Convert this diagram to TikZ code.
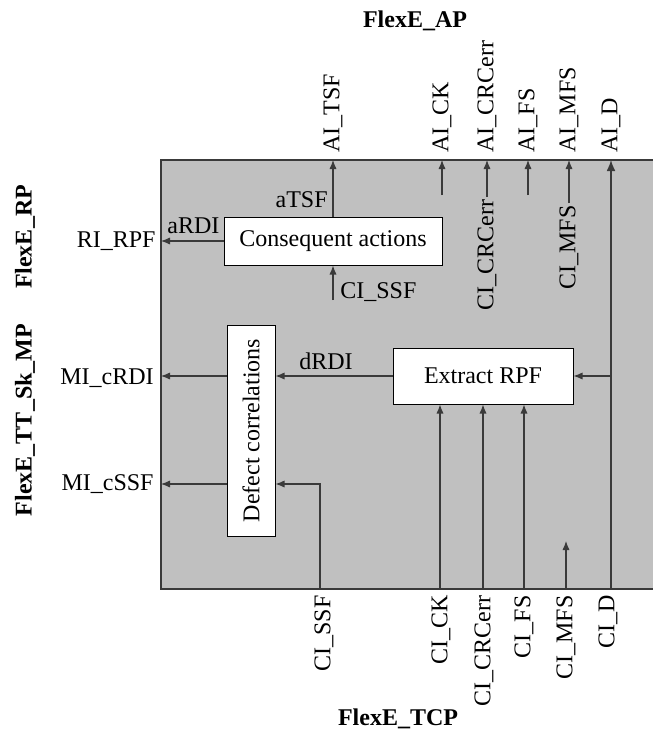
\documentclass[tikz,border=0pt]{standalone}
\usepackage{fontspec}
\setmainfont{Liberation Serif}
\usetikzlibrary{arrows.meta}
\definecolor{panel}{HTML}{C0C0C0}
\definecolor{wire}{HTML}{3A3A3A}
\begin{document}
\begin{tikzpicture}[x=0.5pt,y=-0.5pt,
  font=\fontsize{12}{14}\selectfont,
  every node/.style={inner sep=0pt},
  blk/.style={draw=black, fill=white, line width=0.5pt, inner sep=0pt},
  arr/.style={draw=wire, line width=0.55pt, -{Latex[length=4.5pt,width=3.6pt]}},
  bigarr/.style={draw=wire, line width=0.7pt, -{Latex[length=5.5pt,width=4.4pt]}},
  wireline/.style={draw=wire, line width=0.55pt},
  vlab/.style={rotate=90, inner sep=1pt},
  side/.style={font=\fontsize{12}{14}\selectfont\bfseries}]
\useasboundingbox (0,0) rectangle (653,729);
\fill[panel] (161,160) rectangle (660,589);
\draw[wire, line width=0.6pt] (660,160) -- (161,160) -- (161,589) -- (660,589);

% boxes
\node[blk, minimum width=109pt, minimum height=24pt] (ca) at (333,241) {Consequent actions};
\node[blk, rotate=90, minimum width=105.5pt, minimum height=24pt] (dc) at (251,430.5) {Defect correlations};
\node[blk, minimum width=90pt, minimum height=28pt] (ex) at (483,376) {Extract RPF};

% port coordinates
\coordinate (tTSF) at (333,160);
\coordinate (tCK) at (442,160);
\coordinate (tCRC) at (487,160);
\coordinate (tFS) at (528,160);
\coordinate (tMFS) at (569,160);
\coordinate (tD) at (611,160);
\coordinate (sCK) at (442,195);
\coordinate (sFS) at (528,195);
\coordinate (lRPF) at (161,241);
\coordinate (lcRDI) at (161,376);
\coordinate (lcSSF) at (161,484);
\coordinate (iSSF) at (333,300);
\coordinate (bSSF) at (320,589);
\coordinate (bCK) at (440,589);
\coordinate (bCRC) at (483,589);
\coordinate (bFS) at (524,589);
\coordinate (bMFS) at (566,589);
\coordinate (eMFS) at (566,541);
\coordinate (bD) at (611,589);
\coordinate (jD) at (611,376);

% inner labels
\node[vlab, anchor=east] (crcin) at (487,197) {CI\_CRCerr};
\node[vlab, anchor=east] (mfsin) at (569,203) {CI\_MFS};
\node[anchor=base east] at (328,207) {aTSF};
\node[anchor=base west] at (167,233) {aRDI};
\node[anchor=base west] at (340,298) {CI\_SSF};
\node[anchor=base west] at (299,369) {dRDI};

% connectors
\draw[arr] (ca.north) -- (tTSF);
\draw[arr] (ca.west) -- (lRPF);
\draw[arr] (iSSF) -- (ca.south);
\draw[arr] (sCK) -- (tCK);
\draw[arr] (crcin.east) -- (tCRC);
\draw[arr] (sFS) -- (tFS);
\draw[arr] (mfsin.east) -- (tMFS);
\draw[bigarr] (bD) -- (tD);
\draw[arr] (jD) -- (ex.east);
\draw[arr] (bCK) -- (bCK |- ex.south);
\draw[arr] (bCRC) -- (bCRC |- ex.south);
\draw[arr] (bFS) -- (bFS |- ex.south);
\draw[arr] (bMFS) -- (eMFS);
\draw[arr] (ex.west) -- (ex.west -| dc.south);
\draw[arr] (lcRDI -| dc.north) -- (lcRDI);
\draw[arr] (lcSSF -| dc.north) -- (lcSSF);
\draw[arr] (bSSF) |- (lcSSF -| dc.south);

% outer labels
\node[vlab, anchor=west] at (333,155) {AI\_TSF};
\node[vlab, anchor=west] at (442,155) {AI\_CK};
\node[vlab, anchor=west] at (487,155) {AI\_CRCerr};
\node[vlab, anchor=west] at (528,155) {AI\_FS};
\node[vlab, anchor=west] at (569,155) {AI\_MFS};
\node[vlab, anchor=west] at (611,155) {AI\_D};

\node[vlab, anchor=east] at (324,593) {CI\_SSF};
\node[vlab, anchor=east] at (441,593) {CI\_CK};
\node[vlab, anchor=east] at (484,593) {CI\_CRCerr};
\node[vlab, anchor=east] at (524,593) {CI\_FS};
\node[vlab, anchor=east] at (566,593) {CI\_MFS};
\node[vlab, anchor=east] at (608,593) {CI\_D};

\node[anchor=east] at (156,241) {RI\_RPF};
\node[anchor=east] at (154,378) {MI\_cRDI};
\node[anchor=east] at (154,484) {MI\_cSSF};

\node[side, anchor=base] at (415,27) {FlexE\_AP};
\node[side, anchor=base] at (398,725) {FlexE\_TCP};
\node[side, rotate=90] at (25,237) {FlexE\_RP};
\node[side, rotate=90] at (25,420) {FlexE\_TT\_Sk\_MP};
\end{tikzpicture}
\end{document}
